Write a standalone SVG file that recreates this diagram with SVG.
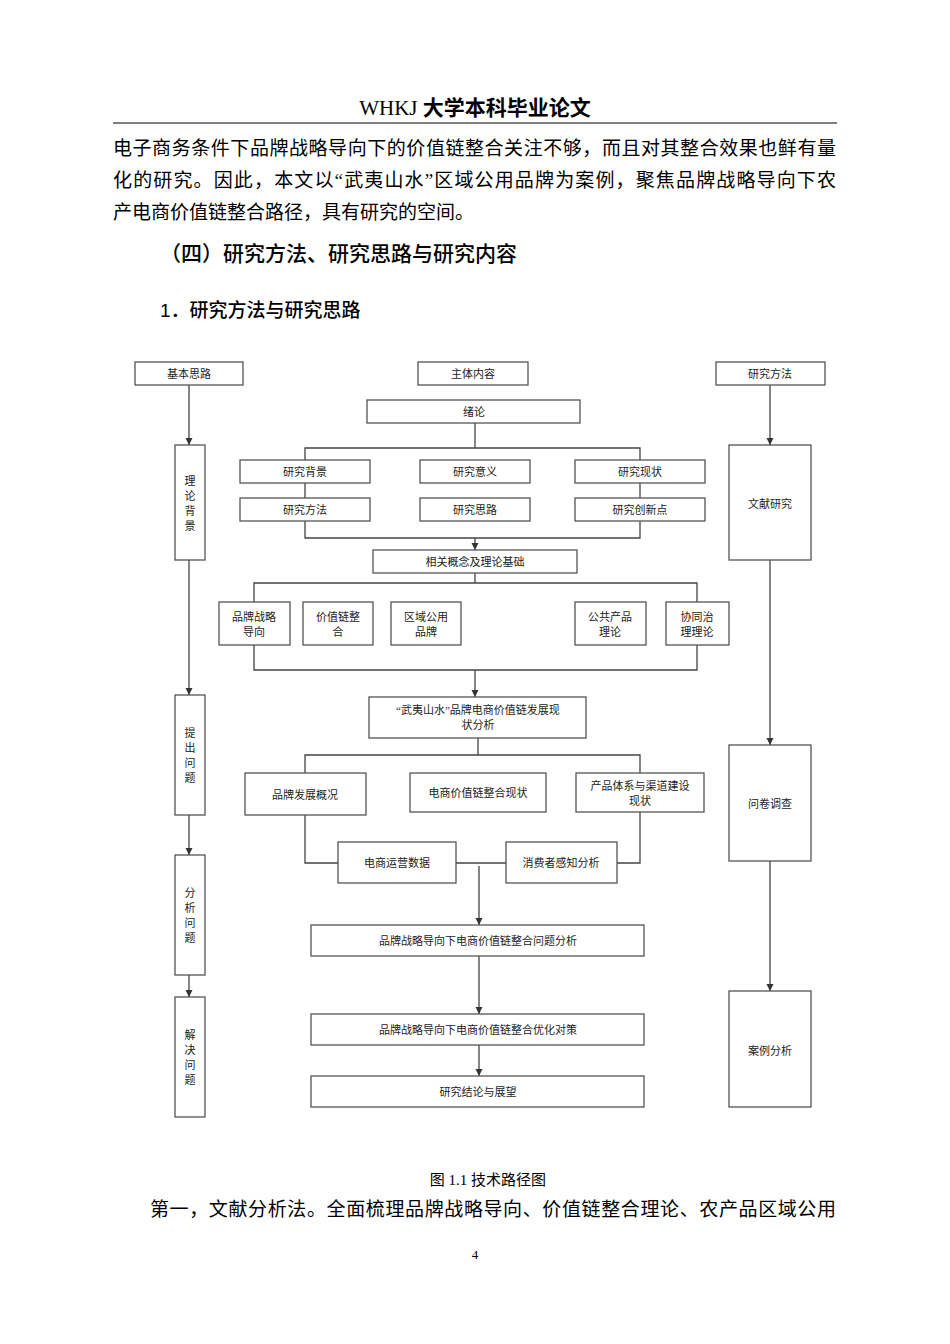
<svg xmlns="http://www.w3.org/2000/svg" width="950" height="1344" viewBox="0 0 950 1344">
<defs>
<marker id="ar" viewBox="0 0 10 10" refX="10" refY="5" markerWidth="7" markerHeight="9" markerUnits="userSpaceOnUse" orient="auto"><path d="M0,0 L10,5 L0,10 z" fill="#333"/></marker>
<style>
.b{fill:#fff;stroke:#555;stroke-width:1.3}
.t{font-family:"Liberation Serif","Noto Sans CJK SC",serif;font-size:11px;fill:#222;text-anchor:middle}
.p{font-family:"Liberation Serif","Noto Sans CJK SC",serif;font-size:19px;fill:#000}
.h{font-family:"Liberation Sans","Noto Sans CJK SC",sans-serif;fill:#000}
.c line,.c polyline{stroke:#444;stroke-width:1.3;fill:none}
</style>
</defs>
<rect width="950" height="1344" fill="#fff"/>
<text x="475" y="115" font-size="21" text-anchor="middle" font-family="Liberation Serif,Noto Sans CJK SC,serif">WHKJ <tspan font-weight="bold">大学本科毕业论文</tspan></text>
<line x1="113" y1="123" x2="837" y2="123" stroke="#000" stroke-width="1"/>
<text class="p" x="113" y="155" textLength="723" lengthAdjust="spacing">电子商务条件下品牌战略导向下的价值链整合关注不够，而且对其整合效果也鲜有量</text>
<text class="p" x="113" y="187" textLength="723" lengthAdjust="spacing">化的研究。因此，本文以“武夷山水”区域公用品牌为案例，聚焦品牌战略导向下农</text>
<text class="p" x="113" y="219">产电商价值链整合路径，具有研究的空间。</text>
<text class="h" x="160" y="261" font-size="21" font-weight="500">（四）研究方法、研究思路与研究内容</text>
<text class="h" x="160" y="317" font-size="19" font-weight="500">1．研究方法与研究思路</text>

<g class="c">
<line x1="189" y1="385" x2="189" y2="445" marker-end="url(#ar)"/>
<line x1="189" y1="560" x2="189" y2="695" marker-end="url(#ar)"/>
<line x1="189" y1="815" x2="189" y2="855" marker-end="url(#ar)"/>
<line x1="189" y1="975" x2="189" y2="997" marker-end="url(#ar)"/>
<line x1="770" y1="385" x2="770" y2="445" marker-end="url(#ar)"/>
<line x1="770" y1="560" x2="770" y2="745" marker-end="url(#ar)"/>
<line x1="770" y1="861" x2="770" y2="991" marker-end="url(#ar)"/>
<line x1="475" y1="423" x2="475" y2="448"/>
<polyline points="305,460 305,448 640,448 640,460"/>
<line x1="305" y1="483" x2="305" y2="498"/>
<line x1="640" y1="483" x2="640" y2="498"/>
<polyline points="305,521 305,538 640,538 640,521"/>
<line x1="475" y1="538" x2="475" y2="550" marker-end="url(#ar)"/>
<line x1="475" y1="573" x2="475" y2="583"/>
<polyline points="254,602 254,583 697,583 697,602"/>
<polyline points="254,645 254,670 697,670 697,645"/>
<line x1="475" y1="670" x2="475" y2="697" marker-end="url(#ar)"/>
<line x1="478" y1="738" x2="478" y2="755"/>
<polyline points="305,773 305,755 640,755 640,773"/>
<polyline points="305,815 305,863 338,863"/>
<polyline points="640,812 640,863 617,863"/>
<line x1="456" y1="863" x2="506" y2="863"/>
<line x1="479" y1="866" x2="479" y2="925" marker-end="url(#ar)"/>
<line x1="479" y1="956" x2="479" y2="1014" marker-end="url(#ar)"/>
<line x1="479" y1="1045" x2="479" y2="1076" marker-end="url(#ar)"/>
</g>

<g id="n1"><rect class="b" x="135" y="362" width="108" height="23"/><text class="t" x="189" y="378">基本思路</text></g>
<g id="n2"><rect class="b" x="418" y="362" width="110" height="23"/><text class="t" x="473" y="378">主体内容</text></g>
<g id="n3"><rect class="b" x="716" y="362" width="109" height="23"/><text class="t" x="770" y="378">研究方法</text></g>
<g id="n4"><rect class="b" x="367" y="400" width="213" height="23"/><text class="t" x="474" y="416">绪论</text></g>
<g id="n5"><rect class="b" x="240" y="460" width="130" height="23"/><text class="t" x="305" y="476">研究背景</text></g>
<g id="n6"><rect class="b" x="420" y="460" width="110" height="23"/><text class="t" x="475" y="476">研究意义</text></g>
<g id="n7"><rect class="b" x="575" y="460" width="130" height="23"/><text class="t" x="640" y="476">研究现状</text></g>
<g id="n8"><rect class="b" x="240" y="498" width="130" height="23"/><text class="t" x="305" y="514">研究方法</text></g>
<g id="n9"><rect class="b" x="420" y="498" width="110" height="23"/><text class="t" x="475" y="514">研究思路</text></g>
<g id="n10"><rect class="b" x="575" y="498" width="130" height="23"/><text class="t" x="640" y="514">研究创新点</text></g>
<g id="n11"><rect class="b" x="373" y="550" width="204" height="23"/><text class="t" x="475" y="566">相关概念及理论基础</text></g>
<g id="n12"><rect class="b" x="219" y="602" width="71" height="43"/><text class="t" x="254" y="621">品牌战略</text><text class="t" x="254" y="636">导向</text></g>
<g id="n13"><rect class="b" x="303" y="602" width="70" height="43"/><text class="t" x="338" y="621">价值链整</text><text class="t" x="338" y="636">合</text></g>
<g id="n14"><rect class="b" x="391" y="602" width="70" height="43"/><text class="t" x="426" y="621">区域公用</text><text class="t" x="426" y="636">品牌</text></g>
<g id="n15"><rect class="b" x="575" y="602" width="71" height="43"/><text class="t" x="610" y="621">公共产品</text><text class="t" x="610" y="636">理论</text></g>
<g id="n16"><rect class="b" x="666" y="602" width="63" height="43"/><text class="t" x="697" y="621">协同治</text><text class="t" x="697" y="636">理理论</text></g>
<g id="n17"><rect class="b" x="369" y="697" width="217" height="41"/><text class="t" x="478" y="714">“武夷山水”品牌电商价值链发展现</text><text class="t" x="478" y="729">状分析</text></g>
<g id="n18"><rect class="b" x="245" y="773" width="121" height="42"/><text class="t" x="305" y="799">品牌发展概况</text></g>
<g id="n19"><rect class="b" x="410" y="773" width="136" height="39"/><text class="t" x="478" y="797">电商价值链整合现状</text></g>
<g id="n20"><rect class="b" x="576" y="773" width="128" height="39"/><text class="t" x="640" y="790">产品体系与渠道建设</text><text class="t" x="640" y="805">现状</text></g>
<g id="n21"><rect class="b" x="338" y="842" width="118" height="41"/><text class="t" x="397" y="867">电商运营数据</text></g>
<g id="n22"><rect class="b" x="506" y="842" width="111" height="41"/><text class="t" x="561" y="867">消费者感知分析</text></g>
<g id="n23"><rect class="b" x="311" y="925" width="333" height="31"/><text class="t" x="478" y="945">品牌战略导向下电商价值链整合问题分析</text></g>
<g id="n24"><rect class="b" x="311" y="1014" width="333" height="31"/><text class="t" x="478" y="1034">品牌战略导向下电商价值链整合优化对策</text></g>
<g id="n25"><rect class="b" x="311" y="1076" width="333" height="31"/><text class="t" x="478" y="1096">研究结论与展望</text></g>
<g id="n26"><rect class="b" x="175" y="445" width="30" height="115"/><text class="t" x="190" y="485">理</text><text class="t" x="190" y="500">论</text><text class="t" x="190" y="515">背</text><text class="t" x="190" y="530">景</text></g>
<g id="n27"><rect class="b" x="175" y="695" width="30" height="120"/><text class="t" x="190" y="737">提</text><text class="t" x="190" y="752">出</text><text class="t" x="190" y="767">问</text><text class="t" x="190" y="782">题</text></g>
<g id="n28"><rect class="b" x="175" y="855" width="30" height="120"/><text class="t" x="190" y="897">分</text><text class="t" x="190" y="912">析</text><text class="t" x="190" y="927">问</text><text class="t" x="190" y="942">题</text></g>
<g id="n29"><rect class="b" x="175" y="997" width="30" height="120"/><text class="t" x="190" y="1039">解</text><text class="t" x="190" y="1054">决</text><text class="t" x="190" y="1069">问</text><text class="t" x="190" y="1084">题</text></g>
<g id="n30"><rect class="b" x="729" y="445" width="82" height="115"/><text class="t" x="770" y="508">文献研究</text></g>
<g id="n31"><rect class="b" x="729" y="745" width="82" height="116"/><text class="t" x="770" y="808">问卷调查</text></g>
<g id="n32"><rect class="b" x="729" y="991" width="82" height="116"/><text class="t" x="770" y="1055">案例分析</text></g>

<text x="488" y="1185" font-size="15" text-anchor="middle" font-family="Liberation Serif,Noto Sans CJK SC,serif">图 1.1  技术路径图</text>
<text class="p" x="150" y="1216" textLength="686" lengthAdjust="spacing">第一，文献分析法。全面梳理品牌战略导向、价值链整合理论、农产品区域公用</text>
<text x="475" y="1259" font-size="13" text-anchor="middle" font-family="Liberation Serif,serif">4</text>
</svg>
